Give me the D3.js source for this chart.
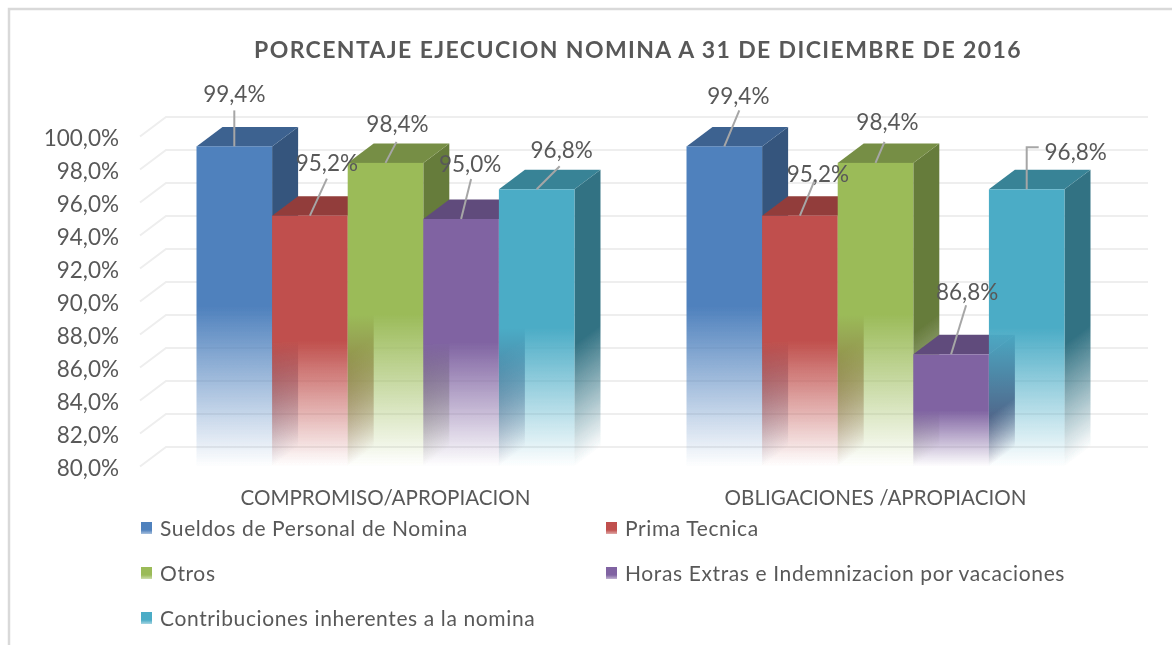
<!DOCTYPE html>
<html><head><meta charset="utf-8">
<script src="https://cdn.jsdelivr.net/npm/d3@7"></script>
<style>
html,body{margin:0;padding:0;background:#fff}
svg{display:block}
text{font-family:Lato,"Open Sans",sans-serif;fill:#595959}
</style></head><body>
<svg id="c" width="1172" height="645"></svg>
<script>
const chartTitle = "PORCENTAJE EJECUCION NOMINA A 31 DE DICIEMBRE DE 2016";
const categories = ["COMPROMISO/APROPIACION", "OBLIGACIONES /APROPIACION"];
const seriesNames = ["Sueldos de Personal de Nomina", "Prima Tecnica", "Otros", "Horas Extras e Indemnizacion por vacaciones", "Contribuciones inherentes a la nomina"];
const compromiso = [99.4, 95.2, 98.4, 95.0, 96.8];
const obligaciones = [99.4, 95.2, 98.4, 86.8, 96.8];
const colors = ["#4f81bd", "#c0504d", "#9bbb59", "#8064a2", "#4bacc6"];
const tickValues = [80, 82, 84, 86, 88, 90, 92, 94, 96, 98, 100];

// leader/label layout, relative to the top-centre of each bar's front face
const leaders = [
  [[0,-36,0,-53],[17,-37,17,-53],[11,-21,12,-39],[10,-40,9,-56],[23,-23,25,-40]],
  [[15,-36,14,-51],[15,-36,18,-42],[9,-21,12,-41],[15,-49,16,-63],[null,-42,49,-38]]
];

const W = 1172, H = 645, depthX = 26, depthY = 19.5;
const svg = d3.select("#c");
const defs = svg.append("defs");
defs.append("filter").attr("id","soft").append("feGaussianBlur").attr("stdDeviation",0.45);
const root = svg.append("g").attr("filter","url(#soft)");

const yBack = d3.scaleLinear().domain([80,100]).range([447,117]);
const yFront = v => yBack(v) + depthY;
const xGroup = d3.scaleBand().domain(categories).range([196.5,1064.5]).paddingInner(0.2286).paddingOuter(0);
const xBar = d3.scaleBand().domain(seriesNames).range([0,xGroup.bandwidth()]);
const fmt = v => d3.format(".1f")(v).replace(".",",") + "%";
const shade = (c,k) => { const r=d3.rgb(c); return d3.rgb(r.r*k,r.g*k,r.b*k).formatHex(); };

// frame
root.append("path").attr("d",`M9,${H} V9 H${W}`).attr("fill","none").attr("stroke","#d9d9d9").attr("stroke-width",2.5);

// title
root.append("text").attr("x",638).attr("y",58).attr("text-anchor","middle")
  .attr("font-size",23).attr("font-weight",700).attr("letter-spacing",1.39).text(chartTitle);

// gridlines
const grid = root.append("g").attr("fill","none").attr("stroke","#eeeeee").attr("stroke-width",2);
grid.selectAll("path").data(tickValues).join("path")
  .attr("d",v=>`M140,${yFront(v)} L166,${yBack(v)} H1148`);

// y axis
const axis = root.append("g").attr("transform","translate(119,1.5)")
  .call(d3.axisLeft(d3.scaleLinear().domain([80,100]).range([yFront(80),yFront(100)])).tickValues(tickValues).tickSize(0).tickPadding(0).tickFormat(fmt));
axis.select(".domain").remove();
axis.selectAll("text").attr("font-size",22.5).style("font-family","Lato").attr("fill","#595959");

// bars
const bottom = yFront(80);
let gid = 0;
function fade(color, y1, y2, xPivot, skew, start) {
  const id = "g"+(gid++);
  const g = defs.append("linearGradient").attr("id",id).attr("gradientUnits","userSpaceOnUse")
    .attr("x1",0).attr("x2",0).attr("y1",y1).attr("y2",y2);
  if (skew) g.attr("gradientTransform",`translate(${xPivot},0) skewY(${skew}) translate(${-xPivot},0)`);
  g.append("stop").attr("offset",start||0.5).attr("stop-color",color).attr("stop-opacity",1);
  g.append("stop").attr("offset",1).attr("stop-color",color).attr("stop-opacity",0);
  return `url(#${id})`;
}
const skewAngle = -Math.atan(depthY/depthX)*180/Math.PI;
const bars = root.append("g");
const labels = root.append("g");
[compromiso, obligaciones].forEach((vals,gi) => {
  const gx = xGroup(categories[gi]);
  vals.forEach((v,i) => {
    const x0 = gx + xBar(seriesNames[i]), x1 = x0 + xBar.bandwidth(), yt = yFront(v);
    const g = bars.append("g");
    g.append("path").attr("fill",fade(shade(colors[i],0.66),yt,bottom,x1,skewAngle,0.56))
      .attr("d",`M${x1},${yt} V${bottom} L${x1+depthX},${bottom-depthY} V${yt-depthY} Z`);
    g.append("path").attr("fill",shade(colors[i],0.76))
      .attr("d",`M${x0},${yt} L${x0+depthX},${yt-depthY} H${x1+depthX} L${x1},${yt} Z`);
    g.append("rect").attr("x",x0).attr("y",yt).attr("width",x1-x0).attr("height",bottom-yt)
      .attr("fill",fade(colors[i],yt,bottom));
    const cx = (x0+x1)/2, L = leaders[gi][i];
    const d = L[0]===null
      ? `M${cx},${yt} V${yt+L[1]} H${cx+12}`
      : `M${cx},${yt} L${cx+L[0]},${yt+L[1]}`;
    labels.append("path").attr("d",d).attr("fill","none").attr("stroke","#a6a6a6").attr("stroke-width",2);
    labels.append("text").attr("x",cx+L[2]).attr("y",yt+L[3]).attr("text-anchor","middle")
      .attr("dominant-baseline","central").attr("font-size",22.5).text(fmt(v));
  });
});

// category labels
root.selectAll(".cat").data(categories).join("text").attr("class","cat")
  .attr("x",d=>xGroup(d)+xGroup.bandwidth()/2).attr("y",505)
  .attr("text-anchor","middle").attr("font-size",20.6).text(d=>d);

// legend
const lx = [141,606], ly = [528,573,618];
seriesNames.forEach((s,i) => {
  const col = i%2, row = Math.floor(i/2), g = root.append("g").attr("transform",`translate(${lx[col]},${ly[row]})`);
  g.append("rect").attr("x",0).attr("y",-6).attr("width",11).attr("height",12).attr("fill",fade(colors[i],-6,10));
  g.append("text").attr("x",19).attr("y",7.5).attr("font-size",21).attr("letter-spacing",0.62).text(s);
});
</script>
</body></html>
